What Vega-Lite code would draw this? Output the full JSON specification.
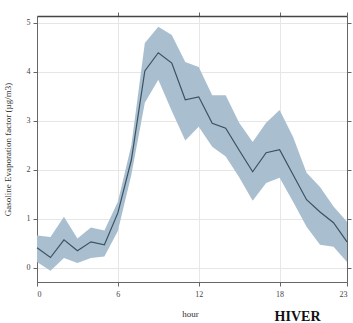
{
  "$schema": "https://vega.github.io/schema/vega-lite/v6.json",
  "width": 310,
  "height": 266,
  "autosize": "none",
  "padding": {"left": 37, "top": 16, "right": 6, "bottom": 41},
  "background": "white",
  "config": {
    "font": "Liberation Serif",
    "view": {"stroke": "#666", "strokeWidth": 1},
    "axis": {
      "labelFont": "Liberation Serif",
      "titleFont": "Liberation Serif",
      "labelFontSize": 8,
      "labelColor": "#444",
      "titleFontWeight": "normal",
      "titleColor": "#333",
      "titleFontSize": 9,
      "domainColor": "#666",
      "tickColor": "#666",
      "tickSize": 4,
      "gridColor": "#e6e6e6",
      "gridWidth": 1
    }
  },
  "title": {
    "text": "HIVER",
    "orient": "bottom",
    "anchor": "end",
    "font": "Liberation Serif",
    "fontSize": 14,
    "fontWeight": "bold",
    "color": "#111",
    "dx": -31,
    "dy": -8,
    "offset": 0
  },
  "data": {
    "values": [
      {"hour": 0, "mean": 0.41, "lo": 0.12, "hi": 0.66},
      {"hour": 1, "mean": 0.21, "lo": -0.06, "hi": 0.63},
      {"hour": 2, "mean": 0.57, "lo": 0.2, "hi": 1.04},
      {"hour": 3, "mean": 0.35, "lo": 0.1, "hi": 0.6},
      {"hour": 4, "mean": 0.53, "lo": 0.2, "hi": 0.82},
      {"hour": 5, "mean": 0.47, "lo": 0.23, "hi": 0.76},
      {"hour": 6, "mean": 1.12, "lo": 0.75, "hi": 1.35},
      {"hour": 7, "mean": 2.2, "lo": 1.9, "hi": 2.5},
      {"hour": 8, "mean": 4.02, "lo": 3.37, "hi": 4.59},
      {"hour": 9, "mean": 4.39, "lo": 3.84, "hi": 4.92},
      {"hour": 10, "mean": 4.18, "lo": 3.2, "hi": 4.75},
      {"hour": 11, "mean": 3.43, "lo": 2.6, "hi": 4.2},
      {"hour": 12, "mean": 3.49, "lo": 2.88, "hi": 4.1},
      {"hour": 13, "mean": 2.95, "lo": 2.47, "hi": 3.52},
      {"hour": 14, "mean": 2.85, "lo": 2.27, "hi": 3.52},
      {"hour": 15, "mean": 2.4, "lo": 1.85, "hi": 2.96},
      {"hour": 16, "mean": 1.96, "lo": 1.37, "hi": 2.57},
      {"hour": 17, "mean": 2.35, "lo": 1.73, "hi": 2.96},
      {"hour": 18, "mean": 2.41, "lo": 1.84, "hi": 3.22},
      {"hour": 19, "mean": 1.9, "lo": 1.35, "hi": 2.67},
      {"hour": 20, "mean": 1.39, "lo": 0.84, "hi": 1.94},
      {"hour": 21, "mean": 1.14, "lo": 0.47, "hi": 1.65},
      {"hour": 22, "mean": 0.92, "lo": 0.43, "hi": 1.25},
      {"hour": 23, "mean": 0.53, "lo": 0.12, "hi": 0.94}
    ]
  },
  "layer": [
    {
      "mark": {"type": "area", "color": "#a9bfcf", "opacity": 1},
      "encoding": {
        "x": {
          "field": "hour",
          "type": "quantitative",
          "scale": {"domain": [0, 23], "nice": false, "zero": false},
          "axis": {"values": [0, 6, 12, 18, 23], "title": "hour", "titleX": 153, "titleY": 27, "grid": true, "labelPadding": 4}
        },
        "y": {
          "field": "lo",
          "type": "quantitative",
          "scale": {"domain": [-0.29, 5.14], "nice": false, "zero": false},
          "axis": {"values": [0, 1, 2, 3, 4, 5], "title": "Gasoline Evaporation factor (µg/m3)", "titleX": -25, "grid": true, "labelPadding": 3}
        },
        "y2": {"field": "hi"}
      }
    },
    {
      "mark": {"type": "line", "color": "#3a5263", "strokeWidth": 1.2},
      "encoding": {
        "x": {
          "field": "hour",
          "type": "quantitative",
          "scale": {"domain": [0, 23], "nice": false, "zero": false},
          "axis": {"orient": "top", "values": [6, 12, 18, 23], "labels": false, "title": null, "grid": false, "domainColor": "#444", "domainWidth": 1.5}
        },
        "y": {
          "field": "mean",
          "type": "quantitative",
          "scale": {"domain": [-0.29, 5.14], "nice": false, "zero": false},
          "axis": {"orient": "right", "values": [0, 1, 2, 3, 4, 5], "labels": false, "title": null, "grid": false}
        }
      }
    }
  ],
  "resolve": {"axis": {"x": "independent", "y": "independent"}}
}
